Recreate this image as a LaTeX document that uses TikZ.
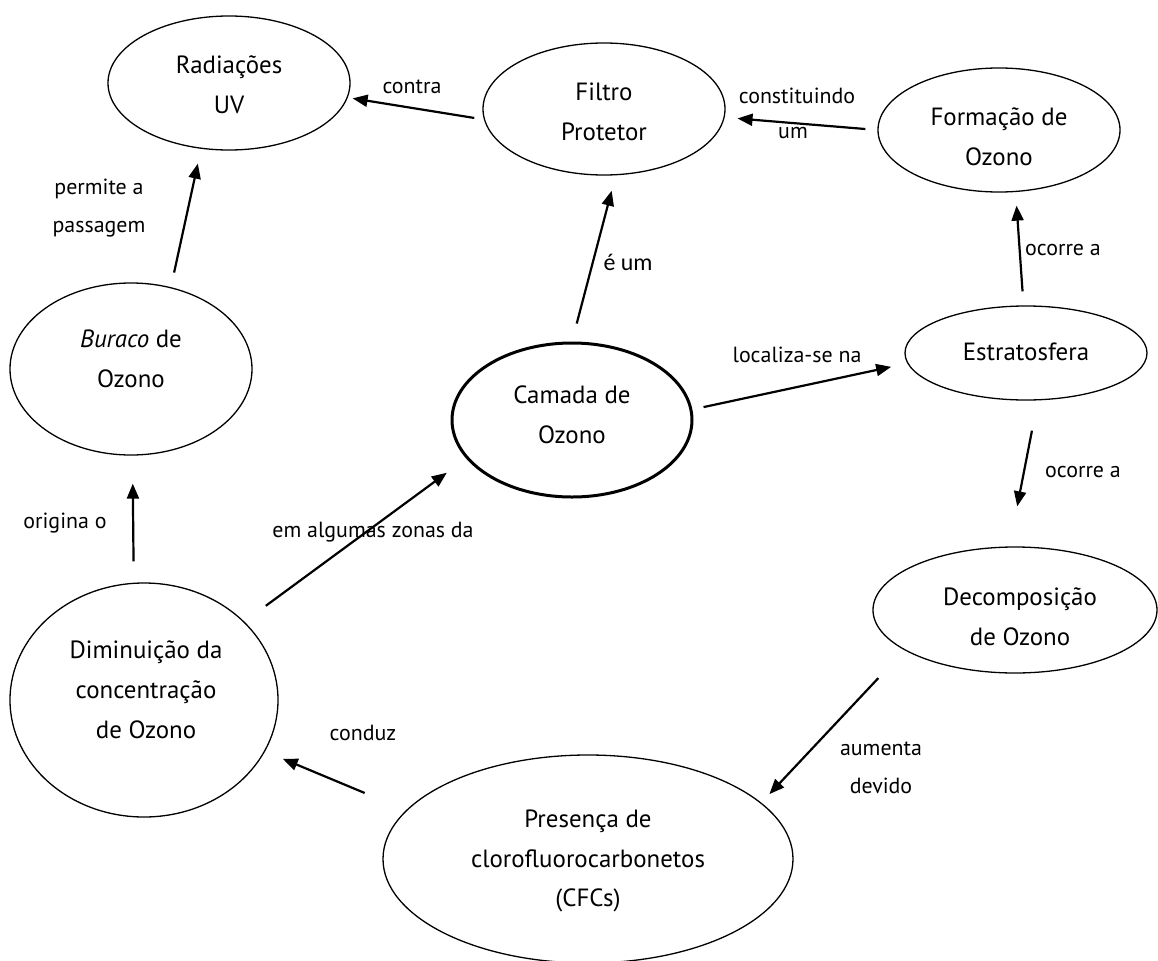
\documentclass[tikz,border=0pt]{standalone}
\usepackage{fontspec}
\setmainfont{PT Sans}
\newfontfamily\calib{Carlito}
\usetikzlibrary{arrows.meta,shapes.geometric}
\begin{document}
\begin{tikzpicture}[x=1bp,y=-1bp,
  concept/.style={draw, ellipse, line width=1.3bp, inner sep=0pt},
  txt/.style={align=center, inner sep=0pt, font=\fontsize{25}{40}\selectfont},
  lbl/.style={align=center, inner sep=0pt, font=\fontsize{22}{38}\selectfont},
  link/.style={line width=2.2bp, -{Triangle[length=15bp,width=12bp]}},
]
\useasboundingbox (0,0) rectangle (1158,961);
% concepts
\node[concept, minimum width=242bp, minimum height=134bp] (R) at (229,83) {};
\node[concept, minimum width=242bp, minimum height=132bp] (F) at (604,109) {};
\node[concept, minimum width=242bp, minimum height=124bp] (Fo) at (999,130) {};
\node[concept, minimum width=242bp, minimum height=172bp] (B) at (131,369) {};
\node[concept, line width=3bp, minimum width=240bp, minimum height=154bp] (C) at (572,420) {};
\node[concept, minimum width=242bp, minimum height=94bp] (E) at (1026,353) {};
\node[concept, minimum width=284bp, minimum height=126bp] (De) at (1015,610) {};
\node[concept, minimum width=268bp, minimum height=234bp] (D) at (144,700) {};
\node[concept, minimum width=410bp, minimum height=208bp] (P) at (588,859) {};
% texts
\node[txt] (Rt) at (229,85) {Radiações\\UV};
\node[txt] (Ft) at (604,112) {Filtro\\Protetor};
\node[txt] (Fot) at (999,137) {Formação de\\Ozono};
\node[txt] (Bt) at (131,359) {\textit{Buraco} de\\Ozono};
\node[txt] (Ct) at (572,415) {Camada de\\Ozono};
\node[txt] (Et) at (1026,352) {Estratosfera};
\node[txt] (Det) at (1020,617) {Decomposição\\de Ozono};
\node[txt] (Dt) at (146,690) {Diminuição da\\concentração\\de Ozono};
\node[txt] (Pt) at (588,861) {Presença de\\clorofluorocarbonetos\\(CFCs)};
% links
\draw[link, shorten <=9.7bp, shorten >=4.9bp] (F.185.1) -- (R.353.15);
\draw[link, shorten <=12bp, shorten >=12.9bp] (Fo.180.5) -- (F.356.3);
\draw[link, shorten <=14.9bp, shorten >=15.1bp] (B.64.6) -- (R.247.05);
\draw[link, shorten <=21.4bp, shorten >=28bp] (D.95.4) -- (B.271.3);
\draw[link, shorten <=26.6bp, shorten >=24bp] (D.38.26) -- (C.200.6);
\draw[link, shorten <=18.6bp, shorten >=15.9bp] (C.90.6) -- (F.280.4);
\draw[link, shorten <=11.4bp, shorten >=16.5bp] (C.5.15) -- (E.185.14);
\draw[link, shorten <=14bp, shorten >=13.6bp] (E.93.9) -- (Fo.285.65);
\draw[link, shorten <=30.8bp, shorten >=40.8bp] (E.284.3) -- (De.95.3);
\draw[link, shorten <=38.2bp, shorten >=11.8bp] (De.200.6) -- (P.18.64);
\draw[link, shorten <=44.8bp, shorten >=19.1bp] (P.165.2) -- (D.337.9);
% labels
\node[lbl] (l1) at (412,87) {contra};
\node[lbl] (l2a) at (797,96) {constituindo};
\node[lbl] (l2b) at (793,133) {um};
\node[lbl] (l3) at (99,208) {permite a\\passagem};
\node[lbl] (l4) at (65,523) {origina o};
\node[lbl] (l5) at (373,532) {em algumas zonas da};
\node[lbl, font=\calib\fontsize{24}{30}\selectfont] (l6) at (628,262) {é um};
\node[lbl] (l7) at (797,355) {localiza-se na};
\node[lbl] (l8) at (1063,250) {ocorre a};
\node[lbl] (l9) at (1083,472) {ocorre a};
\node[lbl] (l10) at (881,768) {aumenta\\devido};
\node[lbl] (l11) at (363,733) {conduz};
\end{tikzpicture}
\end{document}
